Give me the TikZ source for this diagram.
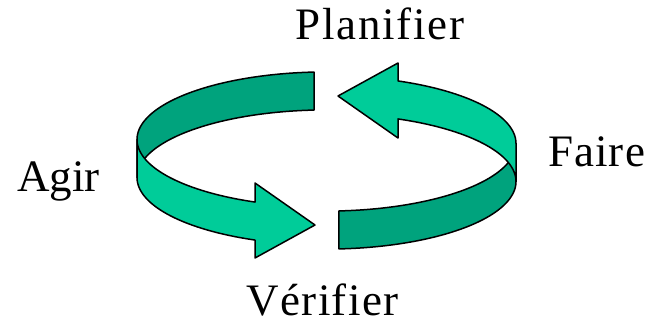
\documentclass[tikz,border=0pt]{standalone}
\usepackage{fontspec}
\setmainfont{Liberation Serif}
\definecolor{ringlight}{HTML}{00CC99}
\definecolor{ringdark}{HTML}{00A37D}
\tikzset{
  backband/.style={fill=ringdark, draw=black, line width=1.5pt, line join=round},
  frontband/.style={fill=ringlight, draw=black, line width=1.5pt, line join=round},
  label/.style={inner sep=0pt, anchor=base, font=\fontsize{45}{54}\selectfont}
}
\begin{document}
\begin{tikzpicture}[x=1pt, y=-1pt]
\useasboundingbox (0,0) rectangle (653,323);
\newcommand{\ringarrow}{%
  \draw[backband] plot[domain=266.08:180, samples=60, smooth] ({327+190*cos(\x)},{139.5+67.6*sin(\x)})
     -- plot[domain=180:266.08, samples=60, smooth] ({327+190*cos(\x)},{177.5+67.6*sin(\x)}) -- cycle;
  \draw[frontband] plot[domain=180:112.27, samples=50, smooth] ({327+190*cos(\x)},{139.5+67.6*sin(\x)})
     -- (255,183) -- (315,225) -- (255,258)
     -- plot[domain=112.27:180, samples=50, smooth] ({327+190*cos(\x)},{177.5+67.6*sin(\x)}) -- cycle;
}
\ringarrow
\begin{scope}[rotate around={180:(326.5,160.5)}]
\ringarrow
\end{scope}
\node[label] (plan) at (380,40) {\addfontfeature{LetterSpace=4}Planifier};
\node[label] (agir) at (58.5,192) {Agir};
\node[label] (faire) at (596.5,167) {\addfontfeature{LetterSpace=2.5}Faire};
\node[label] (verif) at (322.5,315) {\addfontfeature{LetterSpace=3}Vérifier};
\end{tikzpicture}
\end{document}
